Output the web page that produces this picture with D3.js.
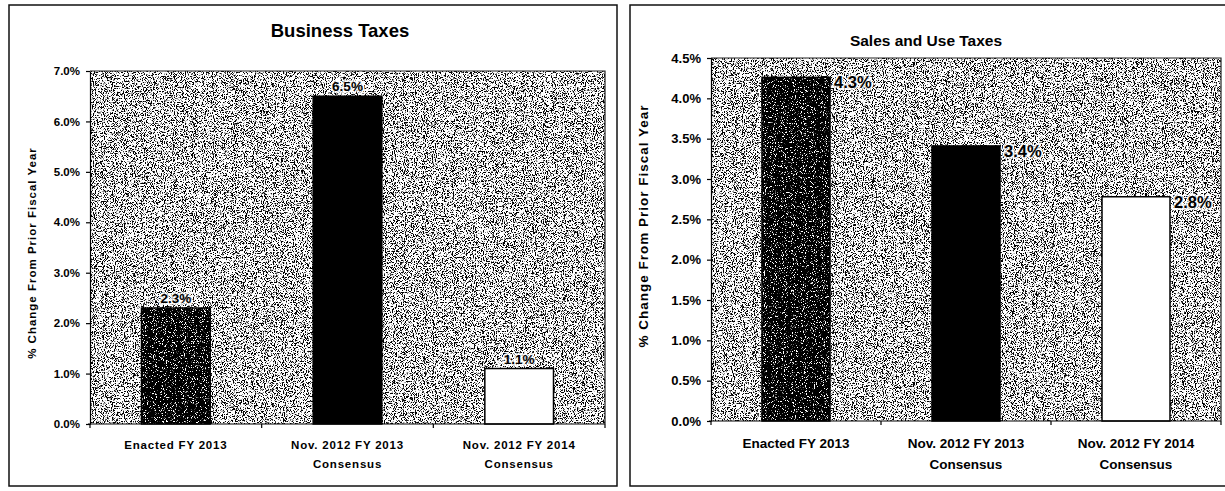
<!DOCTYPE html>
<html>
<head>
<meta charset="utf-8">
<script src="https://cdn.jsdelivr.net/npm/d3@7"></script>
<style>
  body { margin: 0; background: #fff; }
  text { font-family: "Liberation Sans", Arial, sans-serif; font-weight: bold; fill: #000; }
  .axis path, .axis line { stroke: #000; stroke-width: 1.2; }
</style>
</head>
<body>
<script>
// categories shared by both panels (second line of the label after the break)
var categories = ["Enacted FY 2013", "Nov. 2012 FY 2013", "Nov. 2012 FY 2014"];
var categorySub = ["", "Consensus", "Consensus"];

// % change from prior fiscal year
var businessValues = [2.3, 6.5, 1.1];
var salesValues = [4.26, 3.41, 2.78];

var businessTicks = [0, 1, 2, 3, 4, 5, 6, 7];
var salesTicks = [0, 0.5, 1, 1.5, 2, 2.5, 3, 3.5, 4, 4.5];

var svg = d3.select("body").append("svg")
  .attr("width", 1225)
  .attr("height", 491);

var defs = svg.append("defs");

// scanned halftone look: thresholded noise
function addSpeckle(id, cut, slope, seed) {
  var f = defs.append("filter")
    .attr("id", id)
    .attr("x", 0).attr("y", 0).attr("width", 1).attr("height", 1)
    .attr("color-interpolation-filters", "sRGB");
  f.append("feTurbulence")
    .attr("type", "fractalNoise")
    .attr("baseFrequency", "1.1 0.8")
    .attr("numOctaves", 3)
    .attr("seed", seed);
  f.append("feColorMatrix")
    .attr("type", "matrix")
    .attr("values", "1 0 0 0 0  1 0 0 0 0  1 0 0 0 0  0 0 0 0 1");
  var ct = f.append("feComponentTransfer");
  ["feFuncR", "feFuncG", "feFuncB"].forEach(function(n) {
    ct.append(n).attr("type", "linear").attr("slope", slope).attr("intercept", -slope * cut);
  });
}
addSpeckle("bgSpeckle", 0.39, 10, 4);
addSpeckle("barSpeckle", 0.6, 12, 9);

var panels = [
  {
    title: "Business Taxes", values: businessValues, ticks: businessTicks, max: 7,
    frame: [9, 5, 608, 481], x0: 90, x1: 605, y0: 71, y1: 424,
    titleX: 340, titleY: 37, titleFont: 18.5, yTitleX: 36, yTitleY: 253, yTitleFont: 11.5,
    tickFont: 11.5, catFont: 11.5, catSpacing: 0.8,
    valueFont: 13.5, valueMode: "above"
  },
  {
    title: "Sales and Use Taxes", values: salesValues, ticks: salesTicks, max: 4.5,
    frame: [630, 5, 620, 481], x0: 711, x1: 1221, y0: 58, y1: 421,
    titleX: 926, titleY: 46, titleFont: 15.5, yTitleX: 648, yTitleY: 226, yTitleFont: 13.5,
    tickFont: 13, catFont: 13.5, catSpacing: 0,
    valueFont: 16.5, valueMode: "right"
  }
];

function drawPanel(p) {
  var g = svg.append("g");

  g.append("rect")
    .attr("x", p.frame[0]).attr("y", p.frame[1])
    .attr("width", p.frame[2]).attr("height", p.frame[3])
    .attr("fill", "#fff")
    .attr("stroke", "#111")
    .attr("stroke-width", 1.5);

  var x = d3.scaleBand()
    .domain(categories)
    .range([p.x0, p.x1])
    .paddingInner(0.6)
    .paddingOuter(0.3);

  var y = d3.scaleLinear()
    .domain([0, p.max])
    .range([p.y1, p.y0]);

  // plot area background
  g.append("rect")
    .attr("x", p.x0).attr("y", p.y0)
    .attr("width", p.x1 - p.x0).attr("height", p.y1 - p.y0)
    .attr("filter", "url(#bgSpeckle)");

  // plot area border (top, right)
  g.append("path")
    .attr("d", `M${p.x0},${p.y0}H${p.x1}V${p.y1}`)
    .attr("fill", "none")
    .attr("stroke", "#222")
    .attr("stroke-width", 1.2);

  // bars
  g.selectAll(".barFill")
    .data(p.values)
    .enter()
    .append("rect")
    .attr("x", (d, i) => x(categories[i]))
    .attr("y", d => y(d))
    .attr("width", x.bandwidth())
    .attr("height", d => y(0) - y(d))
    .attr("fill", (d, i) => i === 1 ? "#000" : "#fff")
    .attr("filter", (d, i) => i === 0 ? "url(#barSpeckle)" : null);

  g.selectAll(".barEdge")
    .data(p.values)
    .enter()
    .append("rect")
    .attr("x", (d, i) => x(categories[i]))
    .attr("y", d => y(d))
    .attr("width", x.bandwidth())
    .attr("height", d => y(0) - y(d))
    .attr("fill", "none")
    .attr("stroke", "#000")
    .attr("stroke-width", 1.5);

  // value labels
  g.selectAll(".val")
    .data(p.values)
    .enter()
    .append("text")
    .attr("x", (d, i) => p.valueMode === "above"
      ? x(categories[i]) + x.bandwidth() / 2
      : x(categories[i]) + x.bandwidth() + 4)
    .attr("y", d => p.valueMode === "above" ? y(d) - 5 : y(d) + 11)
    .attr("text-anchor", p.valueMode === "above" ? "middle" : "start")
    .attr("font-size", p.valueFont)
    .attr("stroke", "#fff")
    .attr("stroke-opacity", 0.75)
    .attr("stroke-width", 4)
    .attr("stroke-linejoin", "round")
    .attr("paint-order", "stroke")
    .text(d => d.toFixed(1) + "%");

  // y axis
  var yAxis = g.append("g")
    .attr("class", "axis")
    .attr("transform", `translate(${p.x0},0)`)
    .call(d3.axisLeft(y)
      .tickValues(p.ticks)
      .tickFormat(d => d.toFixed(1) + "%")
      .tickSize(4)
      .tickSizeOuter(0)
      .tickPadding(6));
  yAxis.selectAll("text")
    .attr("font-size", p.tickFont)
    .style("font-family", "'Liberation Sans', Arial, sans-serif")
    .style("font-weight", "bold");

  // x axis
  var xAxis = g.append("g")
    .attr("class", "axis")
    .attr("transform", `translate(0,${p.y1})`)
    .call(d3.axisBottom(x).tickSize(0).tickSizeOuter(0).tickPadding(17));
  xAxis.select(".domain").attr("d", `M${p.x0 - 2},0H${p.x1}`);
  xAxis.selectAll("text")
    .attr("font-size", p.catFont)
    .attr("letter-spacing", p.catSpacing)
    .style("font-family", "'Liberation Sans', Arial, sans-serif")
    .style("font-weight", "bold")
    .each(function(d, i) {
      var t = d3.select(this);
      t.text(null);
      t.append("tspan").attr("x", 0).attr("dy", "0.71em").text(d);
      if (categorySub[i]) {
        t.append("tspan").attr("x", 0).attr("dy", "1.6em").text(categorySub[i]);
      }
    });

  // ticks between categories
  g.selectAll(".sep")
    .data(d3.range(categories.length + 1))
    .enter()
    .append("line")
    .attr("x1", i => p.x0 + i * x.step())
    .attr("x2", i => p.x0 + i * x.step())
    .attr("y1", p.y1)
    .attr("y2", p.y1 + 4)
    .attr("stroke", "#000")
    .attr("stroke-width", 1.2);

  // titles
  g.append("text")
    .attr("x", p.titleX)
    .attr("y", p.titleY)
    .attr("text-anchor", "middle")
    .attr("font-size", p.titleFont)
    .text(p.title);

  g.append("text")
    .attr("transform", `translate(${p.yTitleX},${p.yTitleY}) rotate(-90)`)
    .attr("text-anchor", "middle")
    .attr("font-size", p.yTitleFont)
    .attr("letter-spacing", 1)
    .text("% Change From Prior Fiscal Year");
}

panels.forEach(drawPanel);
</script>
</body>
</html>
